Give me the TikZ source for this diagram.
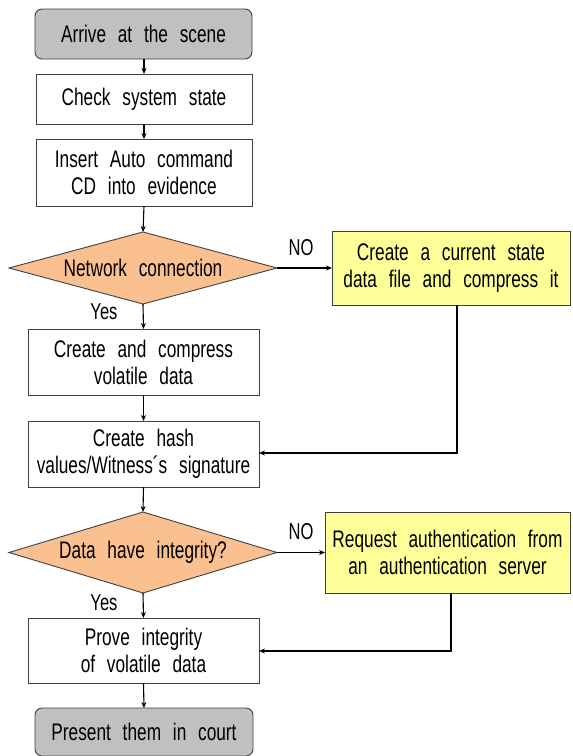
\documentclass[tikz,border=0pt]{standalone}
\usepackage{fontspec}
\setmainfont{Liberation Sans}[FakeStretch=0.72, WordSpace=2.45]
\usetikzlibrary{shapes.geometric,arrows.meta}
\definecolor{boxgray}{RGB}{192,192,192}
\definecolor{diaorange}{RGB}{250,192,144}
\definecolor{boxyellow}{RGB}{255,255,153}
\definecolor{edgegray}{RGB}{64,64,64}
\begin{document}
\begin{tikzpicture}[x=1pt,y=-1pt,
  every node/.style={font=\fontsize{24}{27}\selectfont, inner sep=0pt, outer sep=0pt, align=center},
  basebox/.style={draw=edgegray, line width=0.9pt, rectangle},
  terminal/.style={basebox, fill=boxgray, rounded corners=7pt},
  process/.style={basebox, fill=white},
  sidebox/.style={basebox, fill=boxyellow},
  decision/.style={draw=edgegray, line width=0.9pt, fill=diaorange, diamond, aspect=3.7},
  conn/.style={line width=1.1pt, -{Stealth[length=6pt,width=5pt]}},
  lbl/.style={font=\fontsize{23}{25}\selectfont}
]
\useasboundingbox (0,0) rectangle (573,756);

\node[terminal, minimum width=217pt, minimum height=50pt] (arrive) at (143.5,34) {Arrive at the scene};
\node[process, minimum width=216pt, minimum height=50pt] (check) at (144,99) {Check system state};
\node[process, minimum width=216pt, minimum height=67pt] (insert) at (144,172.5) {Insert Auto command\\ CD into evidence};
\node[decision, minimum width=268pt, minimum height=72pt] (net) at (143,268) {Network connection};
\node[sidebox, minimum width=238pt, minimum height=74pt] (nofile) at (451,268) {Create a current state\\ data file and compress it};
\node[process, minimum width=231pt, minimum height=66pt] (compress) at (143.5,362) {Create and compress\\ volatile data};
\node[process, minimum width=231pt, minimum height=66pt] (hash) at (143.5,454) {Create hash\\ values/Witness´s signature};
\node[decision, minimum width=268pt, minimum height=81pt] (integ) at (143,552.5) {Data have integrity?};
\node[sidebox, minimum width=245pt, minimum height=81pt] (auth) at (447.5,552.5) {Request authentication from\\ an authentication server};
\node[process, minimum width=231pt, minimum height=65pt] (prove) at (143.5,650.5) {Prove integrity\\ of volatile data};
\node[terminal, minimum width=218pt, minimum height=48pt] (present) at (144,732) {Present them in court};

\node[lbl] (no1) at (301,248) {NO};
\node[lbl] (yes1) at (104,312) {Yes};
\node[lbl] (no2) at (301,532) {NO};
\node[lbl] (yes2) at (104,603) {Yes};

\coordinate (c1) at (457,453);
\coordinate (c2) at (451,651);

\draw[conn] (arrive.south -| check.north) -- (check.north);
\draw[conn] (check) -- (insert);
\draw[conn] (insert.south) -- (net.north);
\draw[conn] (net.east) -- (nofile.west);
\draw[conn] (net.south) -- (compress.north);
\draw[conn] (compress) -- (hash);
\draw[conn] (nofile.south -| c1) -- (c1) -- (hash.east |- c1);
\draw[conn] (hash.south) -- (integ.north);
\draw[conn] (integ.east) -- (auth.west);
\draw[conn] (integ.south) -- (prove.north);
\draw[conn] (auth.south -| c2) -- (c2) -- (prove.east |- c2);
\draw[conn] (prove.south) -- (present.north);
\end{tikzpicture}
\end{document}
